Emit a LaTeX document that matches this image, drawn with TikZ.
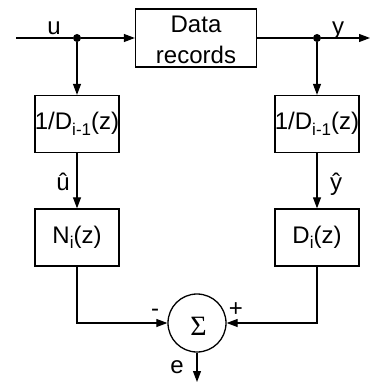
\documentclass[tikz,border=0pt]{standalone}
\usepackage{fontspec}
\setmainfont{Liberation Sans}
\newfontfamily\sigmafont{Liberation Serif}
\usetikzlibrary{arrows.meta}
% lowered, smaller subscript in the sans text font
\newcommand\lowsub[1]{\raisebox{-5.5pt}{\fontsize{17}{17}\selectfont #1}}
\begin{document}
\begin{tikzpicture}[x=1pt,y=-1pt,
  every node/.style={font=\fontsize{24}{30}\selectfont},
  blk/.style={draw, line width=1.3pt, minimum width=84pt, minimum height=57pt,
    inner sep=0pt, align=center},
  wire/.style={line width=1.1pt},
  arr/.style={wire, -{Triangle[length=11pt,width=8pt]}},
  junction/.style={circle, fill, inner sep=0pt, minimum size=8pt},
  sumnode/.style={circle, draw, line width=1.3pt, minimum size=58pt, inner sep=0pt},
  lbl/.style={inner sep=0pt, anchor=base}]
\useasboundingbox (0,0) rectangle (370,382);

% signal path through the recorded data
\coordinate (in) at (16,38);
\node[junction] (ju) at (77,38) {};
\node[blk, minimum width=121pt, minimum height=58pt] (data) at (196,38) {};
\node[inner sep=0pt, align=center, font=\fontsize{24}{31}\selectfont] (datatxt) at (196,40) {Data\\records};
\node[junction] (jy) at (317,38) {};
\coordinate (out) at (370,38);

% filter blocks
\node[blk] (dl) at (77,124) {1/D\lowsub{i-1}(z)};
\node[blk] (dr) at (317,124) {1/D\lowsub{i-1}(z)};
\node[blk] (nl) at (77,237.5) {N\lowsub{i}(z)};
\node[blk] (nr) at (317,237.5) {D\lowsub{i}(z)};

% summing junction
\node[sumnode] (sum) at (197,323) {};
\node[inner sep=0pt, font=\sigmafont\fontsize{28}{28}\selectfont] (sig) at (198.5,326) {Σ};
\coordinate (eout) at (197,382);

% connectors
\draw[wire] (in) -- (ju);
\draw[arr] (ju) -- (data);
\draw[wire] (data) -- (jy);
\draw[arr] (jy) -- (out);
\draw[arr] (ju) -- (dl);
\draw[arr] (jy) -- (dr);
\draw[arr] (dl) -- (nl);
\draw[arr] (dr) -- (nr);
\draw[arr] (nl) |- (sum);
\draw[arr] (nr) |- (sum);
\draw[arr] (sum) -- (eout);

% signal labels
\node[lbl] (lu) at (54,35) {u};
\node[lbl] (ly) at (338,35) {y};
\node[lbl] (luh) at (63,190) {û};
\node[lbl] (lyh) at (336,190) {ŷ};
\node[lbl] (le) at (177,373) {e};
\node[inner sep=0pt] (lminus) at (155,313) {-};
\node[inner sep=0pt] (lplus) at (236,310) {+};
\end{tikzpicture}
\end{document}
